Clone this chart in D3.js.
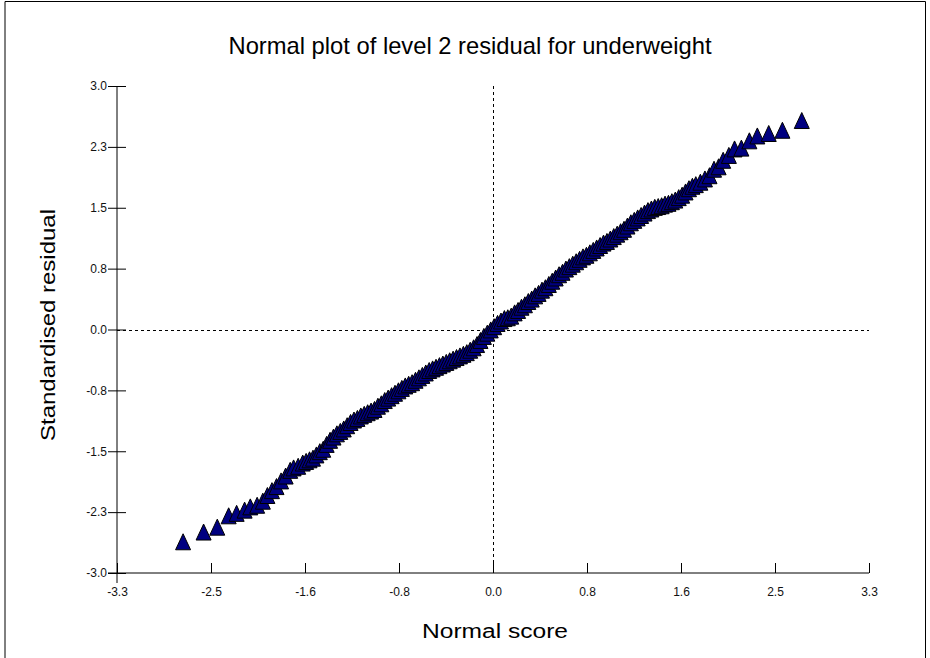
<!DOCTYPE html>
<html>
<head>
<meta charset="utf-8">
<script src="https://cdn.jsdelivr.net/npm/d3@7"></script>
<style>
  body { margin: 0; background: #fff; }
  text { font-family: "Liberation Sans", Arial, sans-serif; }
</style>
</head>
<body>
<div id="chart"></div>
<script>
// normal scores and standardised residuals
const normalScores = [
  -2.72, -2.54, -2.42, -2.32, -2.25, -2.18, -2.13, -2.07, -2.02, -1.98,
  -1.94, -1.90, -1.86, -1.82, -1.78, -1.75, -1.71, -1.67, -1.64, -1.61,
  -1.58, -1.55, -1.52, -1.49, -1.46, -1.43, -1.40, -1.37, -1.34, -1.31,
  -1.28, -1.25, -1.22, -1.19, -1.16, -1.13, -1.10, -1.07, -1.04, -1.01,
  -0.98, -0.95, -0.92, -0.89, -0.86, -0.83, -0.80, -0.77, -0.74, -0.71,
  -0.68, -0.65, -0.62, -0.59, -0.56, -0.53, -0.50, -0.47, -0.44, -0.41,
  -0.38, -0.35, -0.32, -0.29, -0.26, -0.23, -0.20, -0.17, -0.14, -0.11,
  -0.08, -0.05, -0.02, 0.01, 0.04, 0.07, 0.10, 0.13, 0.16, 0.19,
  0.22, 0.25, 0.28, 0.31, 0.34, 0.37, 0.40, 0.43, 0.46, 0.49,
  0.52, 0.55, 0.58, 0.61, 0.64, 0.67, 0.70, 0.73, 0.76, 0.79,
  0.82, 0.85, 0.88, 0.91, 0.94, 0.97, 1.00, 1.03, 1.06, 1.09,
  1.12, 1.15, 1.18, 1.21, 1.24, 1.27, 1.30, 1.33, 1.36, 1.39,
  1.42, 1.45, 1.48, 1.51, 1.54, 1.57, 1.60, 1.63, 1.66, 1.69,
  1.72, 1.75, 1.78, 1.82, 1.86, 1.90, 1.94, 1.98, 2.02, 2.07,
  2.12, 2.18, 2.25, 2.32, 2.42, 2.54, 2.71
];
const residuals = [
  -2.64, -2.52, -2.46, -2.32, -2.29, -2.25, -2.21, -2.19, -2.14, -2.07,
  -2.01, -1.96, -1.89, -1.83, -1.76, -1.73, -1.71, -1.67, -1.65, -1.63,
  -1.61, -1.57, -1.53, -1.50, -1.44, -1.39, -1.35, -1.31, -1.28, -1.25,
  -1.21, -1.17, -1.14, -1.12, -1.09, -1.07, -1.05, -1.03, -1.01, -0.97,
  -0.94, -0.90, -0.87, -0.84, -0.81, -0.78, -0.75, -0.72, -0.70, -0.68,
  -0.65, -0.62, -0.59, -0.56, -0.53, -0.51, -0.49, -0.47, -0.45, -0.43,
  -0.41, -0.39, -0.37, -0.35, -0.33, -0.31, -0.28, -0.25, -0.21, -0.16,
  -0.11, -0.07, -0.03, 0.01, 0.05, 0.08, 0.11, 0.12, 0.14, 0.18,
  0.21, 0.25, 0.28, 0.32, 0.35, 0.39, 0.42, 0.46, 0.49, 0.53,
  0.57, 0.61, 0.65, 0.68, 0.72, 0.75, 0.78, 0.81, 0.84, 0.87,
  0.89, 0.92, 0.95, 0.98, 1.01, 1.04, 1.06, 1.09, 1.12, 1.15,
  1.18, 1.21, 1.25, 1.29, 1.32, 1.35, 1.38, 1.41, 1.44, 1.46,
  1.48, 1.49, 1.50, 1.52, 1.53, 1.55, 1.57, 1.60, 1.63, 1.67,
  1.71, 1.74, 1.76, 1.79, 1.83, 1.87, 1.95, 1.98, 2.06, 2.12,
  2.20, 2.21, 2.30, 2.36, 2.39, 2.43, 2.55
];

const xTickValues = [-3.3, -2.475, -1.65, -0.825, 0, 0.825, 1.65, 2.475, 3.3];
const xTickLabels = ['-3.3', '-2.5', '-1.6', '-0.8', '0.0', '0.8', '1.6', '2.5', '3.3'];
const yTickValues = [-3, -2.25, -1.5, -0.75, 0, 0.75, 1.5, 2.25, 3];
const yTickLabels = ['-3.0', '-2.3', '-1.5', '-0.8', '0.0', '0.8', '1.5', '2.3', '3.0'];

const width = 930;
const height = 658;
const margin = {left: 117, right: 61, top: 86, bottom: 85};

const svg = d3.select('#chart')
  .append('svg')
  .attr('width', width)
  .attr('height', height);

// outer frame (top, left, right edges)
svg.append('path')
  .attr('d', `M5,${height}V1.5H925.5V${height}`)
  .attr('fill', 'none')
  .attr('stroke', '#000')
  .attr('stroke-width', 1);

const xScale = d3.scaleLinear()
  .domain([-3.3, 3.3])
  .range([margin.left, width - margin.right]);
const yScale = d3.scaleLinear()
  .domain([-3, 3])
  .range([height - margin.bottom, margin.top]);

const x0 = xScale(-3.3);
const y0 = yScale(-3);

// dashed reference lines through zero
svg.append('line')
  .attr('x1', Math.round(xScale(0)) + 0.5).attr('x2', Math.round(xScale(0)) + 0.5)
  .attr('y1', yScale(3)).attr('y2', y0)
  .attr('stroke', '#000').attr('stroke-dasharray', '3,3');
svg.append('line')
  .attr('x1', x0).attr('x2', xScale(3.3))
  .attr('y1', Math.round(yScale(0)) + 0.5).attr('y2', Math.round(yScale(0)) + 0.5)
  .attr('stroke', '#000').attr('stroke-dasharray', '3,3');

// x axis
const xAxis = svg.append('g')
  .attr('transform', `translate(0,${y0})`)
  .call(d3.axisBottom(xScale)
    .tickValues(xTickValues)
    .tickFormat((d, i) => xTickLabels[i])
    .tickSize(-10)
    .tickPadding(14));
xAxis.select('.domain').remove();
xAxis.selectAll('text').attr('font-size', 12).attr('fill', '#111');
xAxis.append('line')
  .attr('x1', x0 - 9).attr('x2', xScale(3.3))
  .attr('stroke', '#000');

// y axis, ticks cross the line
const yAxis = svg.append('g')
  .attr('transform', `translate(${x0},0)`)
  .call(d3.axisLeft(yScale)
    .tickValues(yTickValues)
    .tickFormat((d, i) => yTickLabels[i])
    .tickSize(9)
    .tickPadding(1));
yAxis.select('.domain').remove();
yAxis.selectAll('.tick line').attr('x1', 9);
yAxis.selectAll('text').attr('font-size', 12).attr('fill', '#111');
yAxis.append('line')
  .attr('y1', yScale(3)).attr('y2', y0 + 10)
  .attr('stroke', '#000');

// triangles
const points = normalScores.map((d, i) => ({x: d, y: residuals[i]}));
svg.append('g')
  .selectAll('path')
  .data(points)
  .join('path')
  .attr('transform', d => `translate(${xScale(d.x)},${yScale(d.y)})`)
  .attr('d', 'M0,-10L7.5,6L-7.5,6Z')
  .attr('fill', '#000080')
  .attr('stroke', '#000')
  .attr('stroke-width', 1);

// titles
svg.append('text')
  .attr('x', 470).attr('y', 54)
  .attr('text-anchor', 'middle')
  .attr('font-size', 24)
  .attr('textLength', 483)
  .attr('lengthAdjust', 'spacingAndGlyphs')
  .text('Normal plot of level 2 residual for underweight');

svg.append('text')
  .attr('x', 495).attr('y', 638)
  .attr('text-anchor', 'middle')
  .attr('font-size', 20)
  .attr('textLength', 146)
  .attr('lengthAdjust', 'spacingAndGlyphs')
  .text('Normal score');

svg.append('text')
  .attr('transform', 'translate(55,325) rotate(-90)')
  .attr('text-anchor', 'middle')
  .attr('font-size', 20)
  .attr('textLength', 232)
  .attr('lengthAdjust', 'spacingAndGlyphs')
  .text('Standardised residual');
</script>
</body>
</html>
